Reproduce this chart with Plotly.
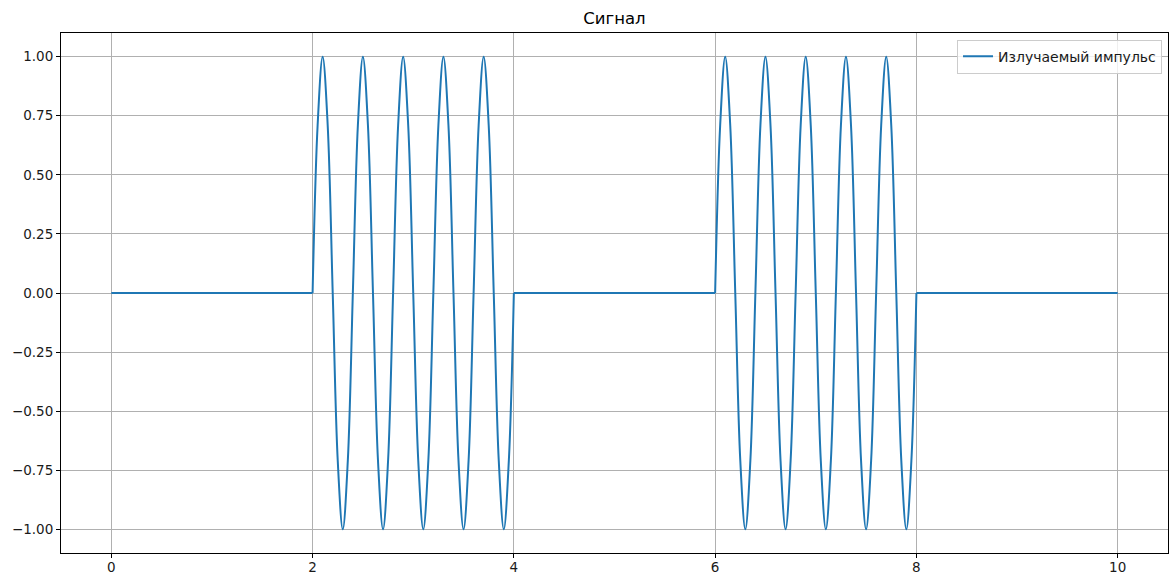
import plotly.graph_objects as go

# Signal values (eighth-period samples, period 0.4)
pulse1_t = [2.00, 2.05, 2.10, 2.15, 2.20, 2.25, 2.30, 2.35,
            2.40, 2.45, 2.50, 2.55, 2.60, 2.65, 2.70, 2.75,
            2.80, 2.85, 2.90, 2.95, 3.00, 3.05, 3.10, 3.15,
            3.20, 3.25, 3.30, 3.35, 3.40, 3.45, 3.50, 3.55,
            3.60, 3.65, 3.70, 3.75, 3.80, 3.85, 3.90, 3.95, 4.00]
pulse1_y = [0, 0.71, 1, 0.71, 0, -0.71, -1, -0.71,
            0, 0.71, 1, 0.71, 0, -0.71, -1, -0.71,
            0, 0.71, 1, 0.71, 0, -0.71, -1, -0.71,
            0, 0.71, 1, 0.71, 0, -0.71, -1, -0.71,
            0, 0.71, 1, 0.71, 0, -0.71, -1, -0.71, 0]

pulse2_t = [6.00, 6.05, 6.10, 6.15, 6.20, 6.25, 6.30, 6.35,
            6.40, 6.45, 6.50, 6.55, 6.60, 6.65, 6.70, 6.75,
            6.80, 6.85, 6.90, 6.95, 7.00, 7.05, 7.10, 7.15,
            7.20, 7.25, 7.30, 7.35, 7.40, 7.45, 7.50, 7.55,
            7.60, 7.65, 7.70, 7.75, 7.80, 7.85, 7.90, 7.95, 8.00]
pulse2_y = [0, 0.71, 1, 0.71, 0, -0.71, -1, -0.71,
            0, 0.71, 1, 0.71, 0, -0.71, -1, -0.71,
            0, 0.71, 1, 0.71, 0, -0.71, -1, -0.71,
            0, 0.71, 1, 0.71, 0, -0.71, -1, -0.71,
            0, 0.71, 1, 0.71, 0, -0.71, -1, -0.71, 0]

# Quiet (zero) segments
quiet_t = [[0, 2], [4, 6], [8, 10]]
quiet_y = [[0, 0], [0, 0], [0, 0]]

x_ticks = [0, 2, 4, 6, 8, 10]
y_ticks = [1.0, 0.75, 0.5, 0.25, 0.0, -0.25, -0.5, -0.75, -1.0]
y_ticktext = ["1.00", "0.75", "0.50", "0.25", "0.00", "\u22120.25", "\u22120.50", "\u22120.75", "\u22121.00"]

series_name = "Излучаемый импульс"
color = "#1f77b4"

fig = go.Figure()
fig.add_trace(go.Scatter(x=pulse1_t, y=pulse1_y, mode="lines", name=series_name,
                         legendgroup="s", showlegend=True,
                         line=dict(color=color, width=2, shape="spline", smoothing=1.0)))
fig.add_trace(go.Scatter(x=pulse2_t, y=pulse2_y, mode="lines", name=series_name,
                         legendgroup="s", showlegend=False,
                         line=dict(color=color, width=2, shape="spline", smoothing=1.0)))
for qt, qy in zip(quiet_t, quiet_y):
    fig.add_trace(go.Scatter(x=qt, y=qy, mode="lines", name=series_name,
                             legendgroup="s", showlegend=False,
                             line=dict(color=color, width=2)))

axis_common = dict(showline=True, linecolor="#000000", linewidth=1, mirror=True,
                   showgrid=True, gridcolor="#b0b0b0", gridwidth=0.8,
                   ticks="outside", ticklen=4, tickcolor="#000000", tickwidth=1,
                   zeroline=False, tickfont=dict(family="DejaVu Sans", size=13.5, color="#1a1a1a"))

fig.update_layout(
    width=1170, height=575,
    margin=dict(l=61, r=2, t=33, b=22, autoexpand=False),
    paper_bgcolor="white", plot_bgcolor="white",
    title=dict(text="Сигнал", x=(61 + 1168) / 2 / 1170, xanchor="center",
               y=1 - 18 / 575, yanchor="middle",
               font=dict(family="DejaVu Sans", size=16.5, color="#000000")),
    xaxis=dict(range=[-0.5, 10.5], tickvals=x_ticks, ticklabelstandoff=-2, **axis_common),
    yaxis=dict(range=[-1.1, 1.1], tickvals=y_ticks, ticktext=y_ticktext, **axis_common),
    legend=dict(x=0.9946, y=0.987, xanchor="right", yanchor="top",
                bgcolor="rgba(255,255,255,0.8)", bordercolor="#cccccc", borderwidth=1,
                font=dict(family="DejaVu Sans", size=14, color="#1a1a1a")),
    showlegend=True,
)

fig.write_html("out.html", config={"displayModeBar": False},
               post_script="document.body.style.margin='0';document.body.style.overflow='hidden';")
